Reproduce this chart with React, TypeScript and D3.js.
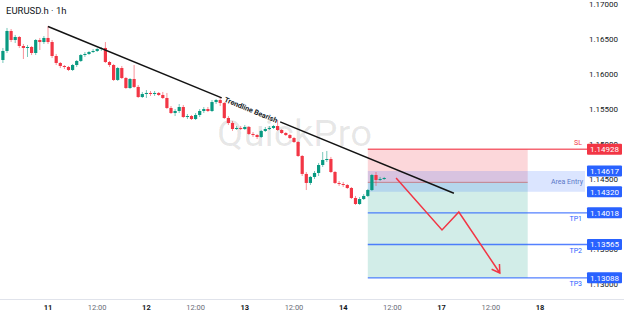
import React from "react";
import * as d3 from "d3";

const W = 624;
const H = 316;

const title = "EURUSD.h · 1h";
const watermark = "QuickPro";

// hourly candles: [open, high, low, close]; index 11 = day 11, 00:00
const candles: [number, number, number, number][] = [
  [1.16206, 1.16378, 1.16163, 1.16335],
  [1.16335, 1.16664, 1.16306, 1.16621],
  [1.16621, 1.16649, 1.16463, 1.16492],
  [1.16492, 1.16564, 1.16449, 1.16535],
  [1.16535, 1.16549, 1.16378, 1.16406],
  [1.16406, 1.16435, 1.1622, 1.16378],
  [1.16378, 1.16421, 1.16249, 1.16392],
  [1.16392, 1.16406, 1.16277, 1.16306],
  [1.16306, 1.16506, 1.16277, 1.16492],
  [1.16492, 1.16521, 1.16349, 1.16463],
  [1.16463, 1.16549, 1.16435, 1.16521],
  [1.16521, 1.16692, 1.16435, 1.16463],
  [1.16463, 1.16492, 1.16235, 1.16263],
  [1.16263, 1.16292, 1.16134, 1.16163],
  [1.16163, 1.16177, 1.16091, 1.1612],
  [1.1612, 1.16134, 1.16077, 1.16106],
  [1.16106, 1.1612, 1.16048, 1.16063],
  [1.16063, 1.16149, 1.16048, 1.16134],
  [1.16134, 1.16206, 1.16106, 1.16192],
  [1.16192, 1.16292, 1.16177, 1.16277],
  [1.16277, 1.1632, 1.16249, 1.16292],
  [1.16292, 1.16335, 1.16277, 1.1632],
  [1.1632, 1.16363, 1.16306, 1.16335],
  [1.16335, 1.16378, 1.1632, 1.16363],
  [1.16363, 1.16392, 1.16335, 1.16378],
  [1.16378, 1.16463, 1.16163, 1.16177],
  [1.16177, 1.16192, 1.16106, 1.16134],
  [1.16134, 1.16149, 1.15905, 1.1592],
  [1.1592, 1.16106, 1.15905, 1.16091],
  [1.16091, 1.1612, 1.15934, 1.15948],
  [1.15948, 1.15963, 1.15791, 1.15805],
  [1.15805, 1.15948, 1.15791, 1.15934],
  [1.15934, 1.16134, 1.15805, 1.1582],
  [1.1582, 1.15848, 1.15662, 1.15676],
  [1.15676, 1.15748, 1.15662, 1.15719],
  [1.15719, 1.15776, 1.15662, 1.15734],
  [1.15734, 1.15762, 1.15691, 1.15719],
  [1.15719, 1.15762, 1.15691, 1.15734],
  [1.15734, 1.15748, 1.15691, 1.15705],
  [1.15705, 1.15748, 1.15648, 1.15662],
  [1.15662, 1.15734, 1.15504, 1.15519],
  [1.15519, 1.15547, 1.15433, 1.15447],
  [1.15447, 1.15504, 1.15404, 1.15476],
  [1.15476, 1.15576, 1.15447, 1.15533],
  [1.15533, 1.15562, 1.15376, 1.1539],
  [1.1539, 1.15433, 1.15361, 1.15404],
  [1.15404, 1.15419, 1.15347, 1.15361],
  [1.15361, 1.15447, 1.15347, 1.15419],
  [1.15419, 1.15504, 1.1539, 1.15476],
  [1.15476, 1.15533, 1.15447, 1.15504],
  [1.15504, 1.15533, 1.15461, 1.15476],
  [1.15476, 1.15633, 1.15461, 1.15604],
  [1.15604, 1.15648, 1.15576, 1.15633],
  [1.15633, 1.15676, 1.15547, 1.1559],
  [1.1559, 1.15604, 1.15361, 1.15376],
  [1.15376, 1.15404, 1.15276, 1.15304],
  [1.15304, 1.15333, 1.1519, 1.15218],
  [1.15218, 1.15261, 1.15204, 1.15233],
  [1.15233, 1.15261, 1.15204, 1.15218],
  [1.15218, 1.15276, 1.15204, 1.15247],
  [1.15247, 1.15261, 1.15132, 1.15147],
  [1.15147, 1.15175, 1.15104, 1.15132],
  [1.15132, 1.15147, 1.15075, 1.15104],
  [1.15104, 1.15204, 1.15089, 1.1519],
  [1.1519, 1.15247, 1.15175, 1.15218],
  [1.15218, 1.15261, 1.15204, 1.15233],
  [1.15233, 1.15276, 1.15218, 1.15261],
  [1.15261, 1.15347, 1.1519, 1.15204],
  [1.15204, 1.15218, 1.15147, 1.15161],
  [1.15161, 1.15175, 1.15118, 1.15132],
  [1.15132, 1.15147, 1.15075, 1.15089],
  [1.15089, 1.15104, 1.15018, 1.15032],
  [1.15032, 1.15046, 1.14818, 1.14832],
  [1.14832, 1.14846, 1.14546, 1.14575],
  [1.14575, 1.14603, 1.14345, 1.14446],
  [1.14446, 1.14546, 1.14417, 1.14532],
  [1.14532, 1.14617, 1.14503, 1.14589],
  [1.14589, 1.14732, 1.14546, 1.14703],
  [1.14703, 1.14889, 1.14675, 1.14775],
  [1.14775, 1.14904, 1.14746, 1.14789],
  [1.14789, 1.14818, 1.14589, 1.14603],
  [1.14603, 1.14617, 1.14431, 1.14446],
  [1.14446, 1.14474, 1.14403, 1.14431],
  [1.14431, 1.1446, 1.14388, 1.14417],
  [1.14417, 1.14431, 1.1436, 1.14374],
  [1.14374, 1.14388, 1.14216, 1.14231],
  [1.14231, 1.1426, 1.14131, 1.14145],
  [1.14145, 1.14245, 1.14131, 1.14216],
  [1.14216, 1.14288, 1.14202, 1.1426],
  [1.1426, 1.1436, 1.14245, 1.14345],
  [1.14345, 1.14575, 1.14331, 1.1456],
  [1.1456, 1.14603, 1.14403, 1.14489],
  [1.14489, 1.14532, 1.14474, 1.14503],
  [1.14503, 1.14532, 1.14489, 1.14517],
];
const firstCandleHour = -11;

const xTickHours = [0, 12, 24, 36, 48, 60, 72, 84, 96, 108, 120];
const xTickLabels = ["11", "12:00", "12", "12:00", "13", "12:00", "14", "12:00", "17", "12:00", "18"];
const yTicks = [1.17, 1.165, 1.16, 1.155, 1.15, 1.145, 1.14, 1.135, 1.13];

const slPrice = 1.14928;
const entryPrice = 1.14455;
const entryTop = 1.14617;
const entryBottom = 1.1432;
const tpPrices = [1.14018, 1.13565, 1.13088];
const tpNames = ["TP1", "TP2", "TP3"];
const positionHours = [78, 117];

const trendStart: [number, number] = [0, 1.16685];
const trendEnd: [number, number] = [99, 1.14298];
const trendLabel = "Trendline Bearish";

const arrowPoints: [number, number][] = [
  [84.9, 1.14517],
  [96.1, 1.13773],
  [100.2, 1.14031],
  [110.2, 1.13158],
];

const GREEN = "#089981";
const RED = "#f23645";
const BLUE = "#2962ff";
const FONT = "Roboto, 'Noto Sans', sans-serif";

export default function App() {
  const x = d3.scaleLinear().domain([0, 120]).range([48, 540]);
  const y = d3.scaleLinear().domain([1.13, 1.17]).range([284, 4.5]);
  const plotRight = 587;
  const bw = 3.2;

  const fmt = d3.format(".5f");

  const tx1 = x(trendStart[0]);
  const ty1 = y(trendStart[1]);
  const tx2 = x(trendEnd[0]);
  const ty2 = y(trendEnd[1]);
  const lerp = (t: number): [number, number] => [tx1 + (tx2 - tx1) * t, ty1 + (ty2 - ty1) * t];
  const gapA = lerp(0.428);
  const gapB = lerp(0.572);
  const mid = lerp(0.5);
  const angle = (Math.atan2(ty2 - ty1, tx2 - tx1) * 180) / Math.PI;

  const arrowLine = d3
    .line<[number, number]>()
    .x((d) => x(d[0]))
    .y((d) => y(d[1]))(arrowPoints) as string;
  const aEnd = arrowPoints[arrowPoints.length - 1];
  const aPrev = arrowPoints[arrowPoints.length - 2];
  const ex = x(aEnd[0]);
  const ey = y(aEnd[1]);
  const dir = Math.atan2(ey - y(aPrev[1]), ex - x(aPrev[0]));
  const headLen = 9;
  const spread = 0.55;
  const h1: [number, number] = [ex - headLen * Math.cos(dir - spread), ey - headLen * Math.sin(dir - spread)];
  const h2: [number, number] = [ex - headLen * Math.cos(dir + spread), ey - headLen * Math.sin(dir + spread)];

  const px0 = x(positionHours[0]);
  const px1 = x(positionHours[1]);

  const priceBox = (p: number, color: string, key: string) => (
    <g key={key}>
      <rect x={plotRight} y={y(p) - 5.5} width={35} height={11} fill={color} rx={1} />
      <text x={plotRight + 17.5} y={y(p)} dy="0.35em" textAnchor="middle" fontSize={8} fill="#fff">
        {fmt(p)}
      </text>
    </g>
  );

  return (
    <svg width={W} height={H} style={{ position: "absolute", left: 0, top: 0, background: "#fff" }} fontFamily={FONT}>
      <rect width={W} height={H} fill="#fff" />
      <text x={6} y={14} fontSize={9.5} fill="#131722">
        {title}
      </text>

      <text x={217} y={146} fontSize={36} fill="#000" fillOpacity={0.1} textLength={155} lengthAdjust="spacingAndGlyphs">
        {watermark}
      </text>

      {yTicks.map((t) => (
        <text key={t} x={618} y={y(t)} dy="0.35em" textAnchor="end" fontSize={8} fill="#131722">
          {fmt(t)}
        </text>
      ))}

      <line x1={0} x2={W} y1={299.5} y2={299.5} stroke="#e0e3eb" />
      {xTickHours.map((h, i) => {
        const day = !xTickLabels[i].includes(":");
        return (
          <text
            key={i}
            x={x(h)}
            y={310}
            textAnchor="middle"
            fontSize={7.5}
            fontWeight={day ? 700 : 400}
            fill={day ? "#131722" : "#6a6d78"}
          >
            {xTickLabels[i]}
          </text>
        );
      })}

      <rect x={px0} y={y(slPrice)} width={px1 - px0} height={y(entryPrice) - y(slPrice)} fill={RED} fillOpacity={0.2} />
      <rect x={px0} y={y(entryPrice)} width={px1 - px0} height={y(tpPrices[2]) - y(entryPrice)} fill={GREEN} fillOpacity={0.18} />
      <rect x={px0} y={y(entryTop)} width={plotRight - 2 - px0} height={y(entryBottom) - y(entryTop)} fill={BLUE} fillOpacity={0.17} />
      <line x1={px0} x2={px1} y1={y(entryPrice)} y2={y(entryPrice)} stroke="#c2808a" strokeWidth={1} />
      <line x1={px0} x2={plotRight} y1={y(slPrice)} y2={y(slPrice)} stroke={RED} strokeOpacity={0.75} strokeWidth={1.5} />
      {tpPrices.map((p, i) => (
        <line key={i} x1={px0} x2={plotRight} y1={y(p)} y2={y(p)} stroke={BLUE} strokeOpacity={0.8} strokeWidth={1.4} />
      ))}

      {candles.map((c, i) => {
        const [o, hi, lo, cl] = c;
        const cx = x(firstCandleHour + i);
        const up = cl >= o;
        const col = up ? GREEN : RED;
        const top = y(Math.max(o, cl));
        const bot = y(Math.min(o, cl));
        return (
          <g key={i}>
            <line x1={cx} x2={cx} y1={y(hi)} y2={y(lo)} stroke={col} strokeOpacity={0.55} strokeWidth={1} />
            <rect x={cx - bw / 2} y={top} width={bw} height={Math.max(1, bot - top)} fill={col} />
          </g>
        );
      })}

      <line x1={tx1} y1={ty1} x2={gapA[0]} y2={gapA[1]} stroke="#131313" strokeWidth={1.5} />
      <line x1={gapB[0]} y1={gapB[1]} x2={tx2} y2={ty2} stroke="#131313" strokeWidth={1.5} />
      <text
        x={mid[0]}
        y={mid[1]}
        dy="0.35em"
        textAnchor="middle"
        fontSize={7.2}
        fontWeight={700}
        fill="#131722"
        transform={`rotate(${angle} ${mid[0]} ${mid[1]})`}
      >
        {trendLabel}
      </text>

      <path d={arrowLine} fill="none" stroke={RED} strokeWidth={1.5} strokeLinejoin="miter" />
      <path d={`M${h1[0]},${h1[1]}L${ex},${ey}L${h2[0]},${h2[1]}`} fill="none" stroke={RED} strokeWidth={1.5} />

      <text x={582} y={y(slPrice) - 4} textAnchor="end" fontSize={7} fill={RED}>
        SL
      </text>
      <text x={583} y={(y(entryTop) + y(entryBottom)) / 2} dy="0.35em" textAnchor="end" fontSize={7} fill="#5a78c8">
        Area Entry
      </text>
      {tpPrices.map((p, i) => (
        <text key={i} x={582} y={y(p) + 8} textAnchor="end" fontSize={7} fill={BLUE}>
          {tpNames[i]}
        </text>
      ))}

      {priceBox(slPrice, RED, "sl")}
      {priceBox(entryTop, BLUE, "et")}
      {priceBox(entryBottom, BLUE, "eb")}
      {tpPrices.map((p, i) => priceBox(p, BLUE, "tp" + i))}
    </svg>
  );
}
